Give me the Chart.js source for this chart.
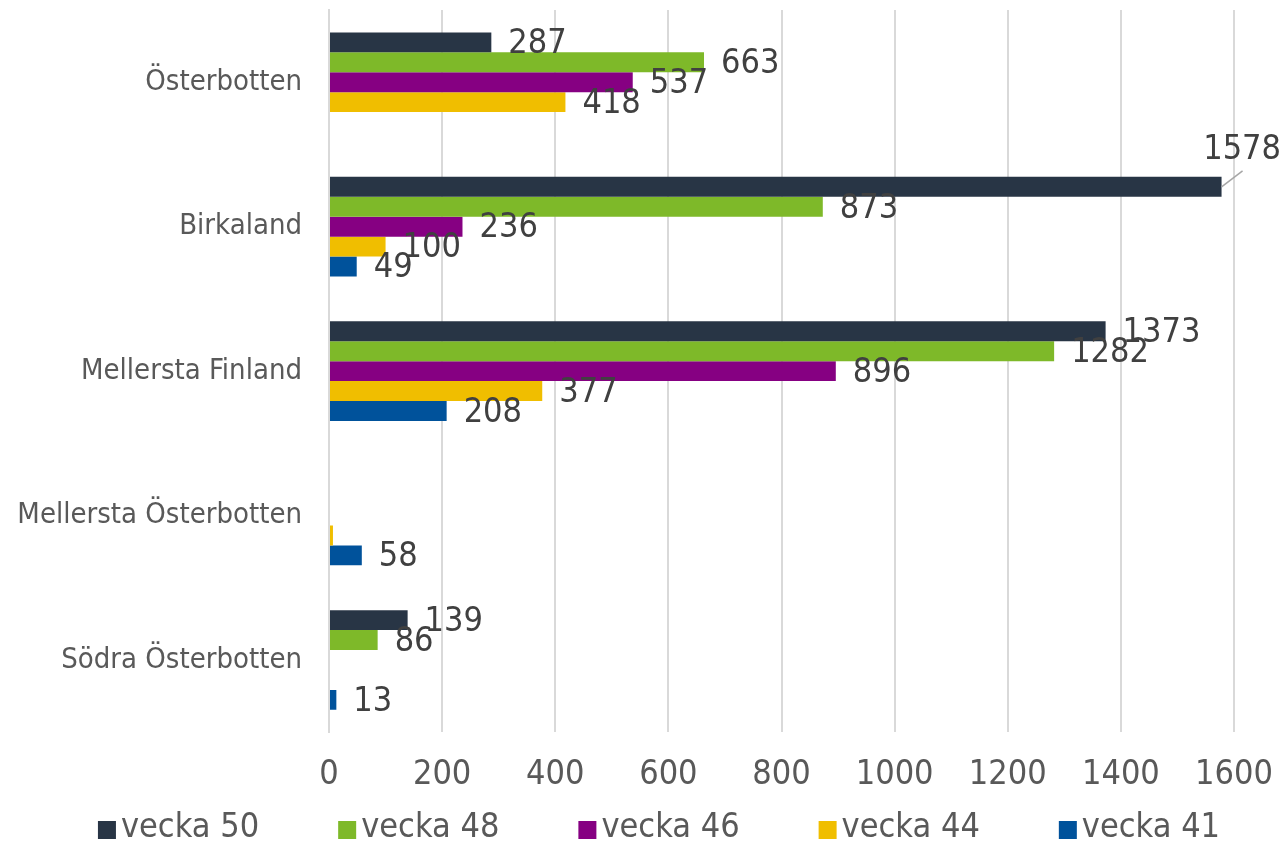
<!DOCTYPE html>
<html lang="sv">
<head>
<meta charset="UTF-8">
<title>Fall per vecka</title>
<script src="https://cdn.jsdelivr.net/npm/chart.js"></script>
<style>
  html, body { margin: 0; padding: 0; background: #fff; }
</style>
</head>
<body>
<canvas id="myChart" width="1286" height="846"></canvas>
<script>
// data
var regioner = ['Österbotten', 'Birkaland', 'Mellersta Finland', 'Mellersta Österbotten', 'Södra Österbotten'];
var serier = ['vecka 50', 'vecka 48', 'vecka 46', 'vecka 44', 'vecka 41'];
var vecka50 = [287, 1578, 1373, null, 139];
var vecka48 = [663, 873, 1282, null, 86];
var vecka46 = [537, 236, 896, null, null];
var vecka44 = [418, 100, 377, 7, null];
var vecka41 = [null, 49, 208, 58, 13];
var xTicks = [0, 200, 400, 600, 800, 1000, 1200, 1400, 1600];

var farger = ['#283545', '#7EB929', '#860082', '#F0BE00', '#00529B'];
var fam = "'DejaVu Sans Condensed', 'DejaVu Sans', sans-serif";

Chart.defaults.font.family = fam;

// etiketter vid staplarnas ände
var etiketter = {
    id: 'etiketter',
    afterDatasetsDraw: function(chart) {
        var ctx = chart.ctx;
        ctx.save();
        ctx.font = '34px ' + fam;
        ctx.fillStyle = '#404040';
        ctx.textBaseline = 'middle';
        chart.data.datasets.forEach(function(ds, i) {
            var meta = chart.getDatasetMeta(i);
            meta.data.forEach(function(el, j) {
                var v = ds.data[j];
                if (v == null || v < 10) return;
                var txt = String(v);
                var w = ctx.measureText(txt).width;
                var x = el.x + 17;
                if (x + w > chart.width) {
                    // får inte plats: lägg ovanför med en linje
                    ctx.strokeStyle = '#A6A6A6';
                    ctx.lineWidth = 1.5;
                    ctx.beginPath();
                    ctx.moveTo(el.x, el.y);
                    ctx.lineTo(el.x + 21, el.y - 16);
                    ctx.stroke();
                    ctx.textAlign = 'right';
                    ctx.fillText(txt, chart.width - 5, el.y - 37);
                } else {
                    ctx.textAlign = 'left';
                    ctx.fillText(txt, x, el.y + 2);
                }
            });
        });
        ctx.restore();
    }
};

// egen förklaring längst ner
var forklaring = {
    id: 'forklaring',
    afterDraw: function(chart) {
        var ctx = chart.ctx;
        ctx.save();
        ctx.font = '34px ' + fam;
        ctx.textBaseline = 'middle';
        ctx.textAlign = 'left';
        var gap = 79, box = 18;
        var widths = serier.map(function(s) { return box + 5 + ctx.measureText(s).width; });
        var total = widths.reduce(function(a, b) { return a + b; }, 0) + gap * (serier.length - 1);
        var x = 659 - total / 2;
        var y = 830;
        serier.forEach(function(s, i) {
            ctx.fillStyle = farger[i];
            ctx.fillRect(x, y - box / 2, box, box);
            ctx.fillStyle = '#595959';
            ctx.fillText(s, x + box + 5, y - 2);
            x += widths[i] + gap;
        });
        ctx.restore();
    }
};

var varden = [vecka50, vecka48, vecka46, vecka44, vecka41];

var grafico = document.getElementById('myChart').getContext('2d');
var myChart = new Chart(grafico, {
    type: 'bar',
    data: {
        labels: regioner,
        datasets: serier.map(function(s, i) {
            return {
                label: s,
                data: varden[i],
                backgroundColor: farger[i],
                borderWidth: 0,
                categoryPercentage: 0.69,
                barPercentage: 1
            };
        })
    },
    options: {
        indexAxis: 'y',
        responsive: false,
        animation: false,
        layout: { padding: { top: 10, right: 0, bottom: 27, left: 0 } },
        plugins: {
            legend: { display: false },
            tooltip: { enabled: false }
        },
        scales: {
            x: {
                min: 0,
                max: 1600,
                afterBuildTicks: function(s) {
                    s.ticks = xTicks.map(function(v) { return { value: v }; });
                },
                afterFit: function(s) { s.paddingRight = 52; },
                grid: { color: '#D9D9D9', lineWidth: 2, drawTicks: false },
                border: { display: false },
                ticks: {
                    color: '#595959', font: { size: 34 }, padding: 23,
                    callback: function(v) { return String(v); }
                }
            },
            y: {
                afterFit: function(s) { s.width = 329; },
                grid: { display: false, drawTicks: true, tickLength: 27 },
                border: { display: true, color: '#D9D9D9', width: 2 },
                ticks: { color: '#595959', font: { size: 29, lineHeight: 0.6 }, padding: 0 }
            }
        }
    },
    plugins: [etiketter, forklaring]
});
</script>
</body>
</html>
